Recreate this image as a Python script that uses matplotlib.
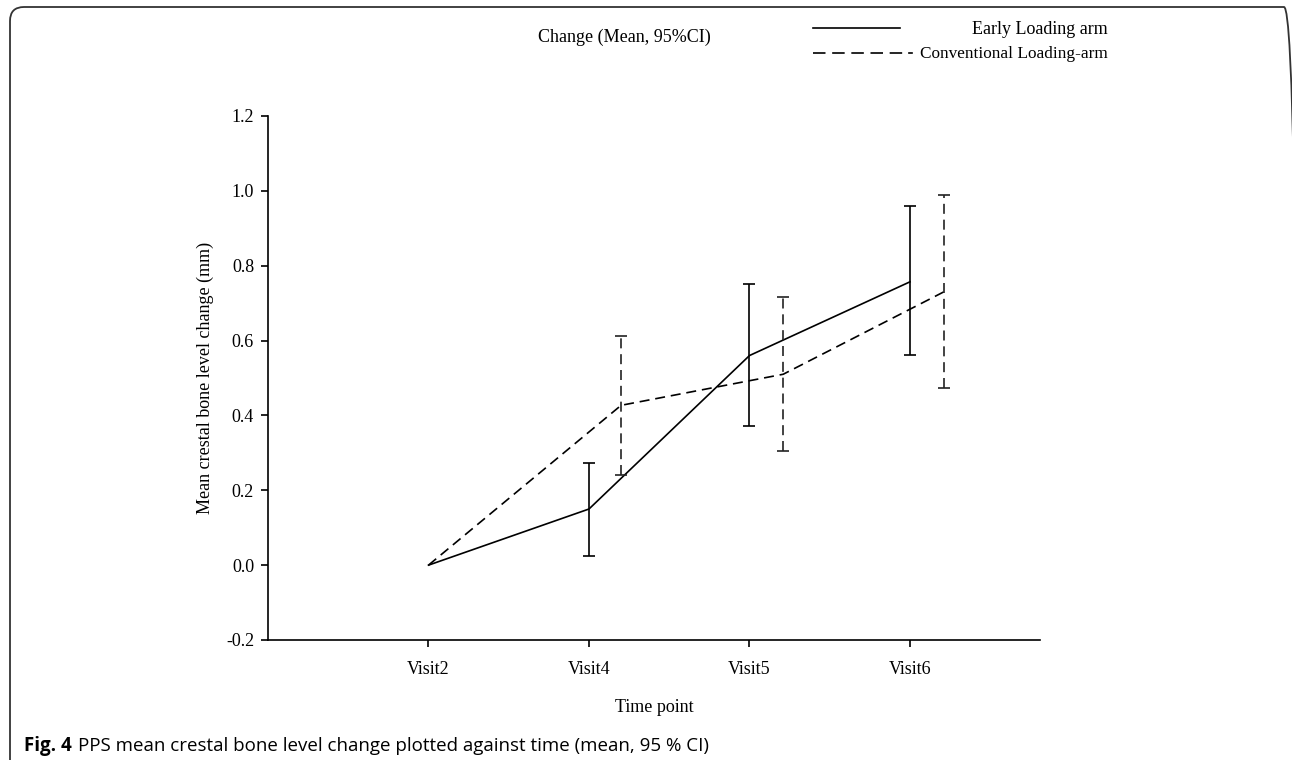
import matplotlib
matplotlib.use("Agg")
import matplotlib.pyplot as plt
from matplotlib.patches import FancyBboxPatch
from matplotlib.lines import Line2D
from matplotlib.transforms import IdentityTransform

visits = ["Visit2", "Visit4", "Visit5", "Visit6"]
early_mean = [0.0, 0.15, 0.56, 0.757]
early_low = [None, 0.024, 0.371, 0.561]
early_high = [None, 0.273, 0.750, 0.960]
conv_mean = [0.0, 0.427, 0.510, 0.730]
conv_low = [None, 0.240, 0.306, 0.473]
conv_high = [None, 0.611, 0.716, 0.990]
conv_shift = [0.0, 0.2, 0.21, 0.21]
yticks = [-0.2, 0.0, 0.2, 0.4, 0.6, 0.8, 1.0, 1.2]

serif = "Liberation Serif"
FS = 13
W, H = 1292, 760
fig = plt.figure(figsize=(W / 100, H / 100), dpi=100)
ax = fig.add_axes([268 / W, 1 - 640 / H, (1040 - 268) / W, (640 - 116) / H])

xs = list(range(1, len(visits) + 1))
xc = [x + s for x, s in zip(xs, conv_shift)]
lw = 1.2
dash = (0, (6, 3.5))

# Early loading arm
ax.plot(xs, early_mean, color="black", lw=lw)
ex = [x for x, l in zip(xs, early_low) if l is not None]
em = [m for m, l in zip(early_mean, early_low) if l is not None]
el = [m - l for m, l in zip(early_mean, early_low) if l is not None]
eh = [h - m for m, h in zip(early_mean, early_high) if h is not None]
ax.errorbar(ex, em, yerr=[el, eh], fmt="none", ecolor="black", elinewidth=lw,
            capsize=4.2, capthick=lw)

# Conventional loading arm
ax.plot(xc, conv_mean, color="black", lw=lw, linestyle=dash)
cx = [x for x, l in zip(xc, conv_low) if l is not None]
cm = [m for m, l in zip(conv_mean, conv_low) if l is not None]
cl = [m - l for m, l in zip(conv_mean, conv_low) if l is not None]
ch = [h - m for m, h in zip(conv_mean, conv_high) if h is not None]
cont = ax.errorbar(cx, cm, yerr=[cl, ch], fmt="none", ecolor="#222222", elinewidth=lw,
                   capsize=4.2, capthick=lw)
for bl in cont[2]:
    bl.set_linestyle(dash)

ax.set_xlim(0, 4.81)
ax.set_ylim(-0.2, 1.2)
ax.set_xticks(xs)
ax.set_xticklabels(visits, fontfamily=serif, fontsize=FS)
ax.set_yticks(yticks)
ax.set_yticklabels([f"{v:.1f}" for v in yticks], fontfamily=serif, fontsize=FS)
ax.spines["top"].set_visible(False)
ax.spines["right"].set_visible(False)
for s in ("left", "bottom"):
    ax.spines[s].set_linewidth(1.2)
ax.tick_params(direction="out", length=5, width=1.2)
ax.tick_params(axis="x", pad=10)
ax.tick_params(axis="y", pad=5)
ax.set_xlabel("Time point", fontfamily=serif, fontsize=FS)
ax.xaxis.set_label_coords(0.5, (640 - 708) / 524)
ax.xaxis.label.set_va("center")
ax.set_ylabel("Mean crestal bone level change (mm)", fontfamily=serif, fontsize=FS)
ax.yaxis.set_label_coords((205 - 268) / 772, 0.5)
ax.yaxis.label.set_va("center")

# Legend (manual, figure coords in pixels)
def fx(px):
    return px / W

def fy(py):
    return 1 - py / H

fig.text(fx(624), fy(37), "Change (Mean, 95%CI)", fontfamily=serif, fontsize=FS,
         ha="center", va="center")
fig.add_artist(Line2D([fx(813), fx(900)], [fy(28), fy(28)], color="black", lw=1.2,
                      transform=fig.transFigure))
fig.add_artist(Line2D([fx(813), fx(903)], [fy(53), fy(53)], color="black", lw=1.2,
                      linestyle=(0, (7.5, 4)), transform=fig.transFigure))
fig.add_artist(Line2D([fx(909), fx(912)], [fy(53), fy(53)], color="black", lw=1.2,
                      transform=fig.transFigure))
fig.text(fx(1108), fy(30), "Early Loading arm", fontfamily=serif, fontsize=FS,
         ha="right", va="center")
fig.text(fx(1108), fy(54), "Conventional Loading-arm", fontfamily=serif, fontsize=12.4,
         ha="right", va="center")

# Caption
cap = fig.text(fx(24), fy(746), "Fig. 4", fontfamily="Open Sans", fontweight="bold",
               fontsize=13.5, ha="left", va="center")
r = fig.canvas.get_renderer()
bb = cap.get_window_extent(renderer=r)
fig.text((bb.x1 + 6) / W, fy(746),
         "PPS mean crestal bone level change plotted against time (mean, 95 % CI)",
         fontfamily="Open Sans", fontsize=13.5, ha="left", va="center")

# Rounded border (pixel coordinates, origin bottom-left)
box = FancyBboxPatch((10, -60), 1298 - 10, (H - 7) + 60,
                     boxstyle="round,pad=0,rounding_size=14",
                     transform=IdentityTransform(), fill=False, edgecolor="#333333",
                     lw=1.3)
fig.add_artist(box)

fig.savefig("out.png", dpi=100)
